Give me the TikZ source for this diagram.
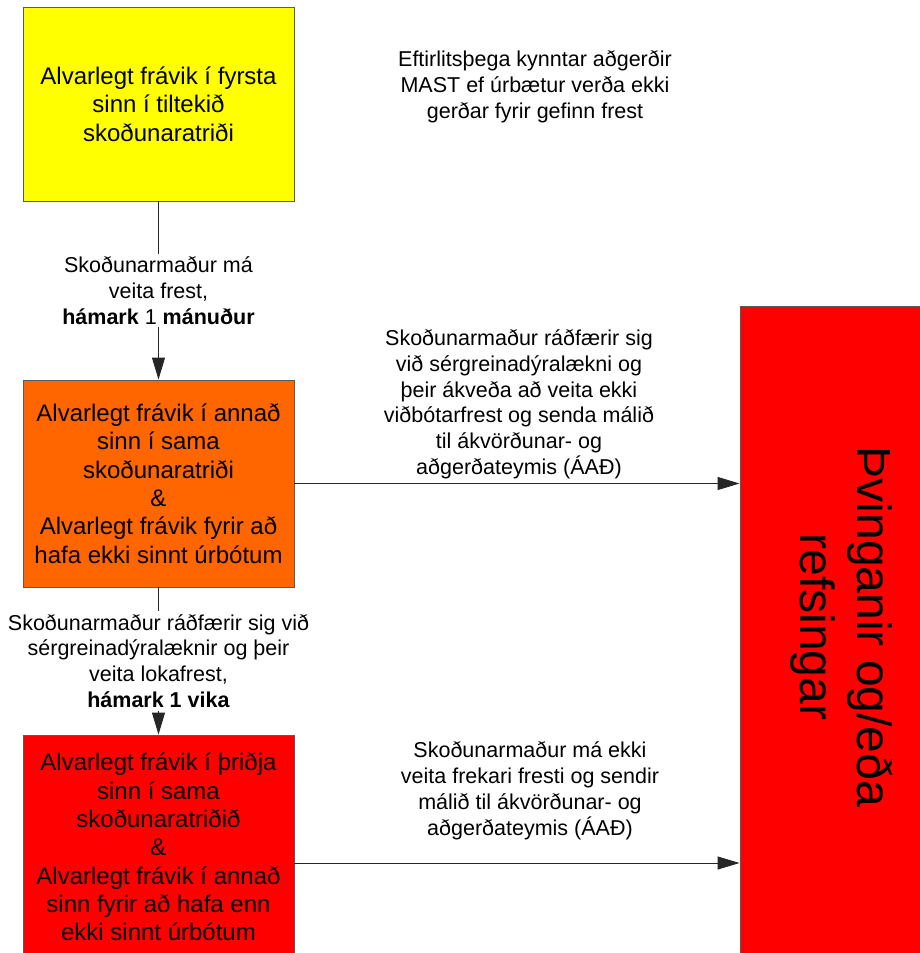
\documentclass[tikz,border=0pt]{standalone}
\usepackage{fontspec}
\setmainfont{Liberation Sans}
\usetikzlibrary{arrows.meta}
\definecolor{boxline}{HTML}{5A5A5A}
\definecolor{yel}{HTML}{FFFF00}
\definecolor{ora}{HTML}{FF6600}
\definecolor{rd}{HTML}{FF0000}
\tikzset{
  box/.style={draw=boxline, line width=0.9pt, minimum width=271pt, inner sep=0pt, align=center,
    font=\fontsize{24}{28.3}\selectfont},
  conn/.style={draw=black!85, line width=0.9pt, -{Triangle[length=22pt,width=13pt]}},
  lbl/.style={align=center, font=\fontsize{21.5}{25.8}\selectfont, inner sep=0pt},
  vlbl/.style={lbl, fill=white, inner sep=3pt}
}
\begin{document}
\begin{tikzpicture}[x=1pt,y=-1pt]
\useasboundingbox (0,0) rectangle (920,953);
\clip (0,0) rectangle (920,953);
\fill[white] (0,0) rectangle (920,953);

\node[box, fill=yel, minimum height=194pt] (b1) at (158.5,104)
  {Alvarlegt frávik í fyrsta\\sinn í tiltekið\\skoðunaratriði};
\node[box, fill=ora, minimum height=207pt] (b2) at (158.5,483.5)
  {Alvarlegt frávik í annað\\sinn í sama\\skoðunaratriði\\\&\\Alvarlegt frávik fyrir að\\hafa ekki sinnt úrbótum};
\node[box, fill=rd, minimum height=224pt] (b3) at (158.5,847)
  {Alvarlegt frávik í þriðja\\sinn í sama\\skoðunaratriðið\\\&\\Alvarlegt frávik í annað\\sinn fyrir að hafa enn\\ekki sinnt úrbótum};
\node[draw=boxline, line width=0.9pt, fill=rd, minimum width=210pt, minimum height=660pt, inner sep=0pt] (big) at (845,636) {};
\node[rotate=-90, align=center, inner sep=0pt, font=\fontsize{48}{57}\selectfont] (bigtxt) at (842,627)
  {Þvinganir og/eða\\refsingar};

\node[lbl] (top) at (535,87)
  {Eftirlitsþega kynntar aðgerðir\\MAST ef úrbætur verða ekki\\gerðar fyrir gefinn frest};

\draw[conn] (b1.south) -- node[vlbl] (l1) {Skoðunarmaður má\\veita frest,\\\textbf{hámark} 1 \textbf{mánuður}} (b2.north);
\draw[conn] (b2.south) -- node[vlbl] (l2) {Skoðunarmaður ráðfærir sig við\\sérgreinadýralæknir og þeir\\veita lokafrest,\\\textbf{hámark 1 vika}} (b3.north);

\draw[conn] (b2.east) -- node[lbl, anchor=south, yshift=4pt, xshift=2pt] (l3)
  {Skoðunarmaður ráðfærir sig\\við sérgreinadýralækni og\\þeir ákveða að veita ekki\\viðbótarfrest og senda málið\\til ákvörðunar- og\\aðgerðateymis (ÁAÐ)} (b2.east -| big.west);
\coordinate (s3) at ([yshift=-16pt]b3.east);
\draw[conn] (s3) -- node[lbl, anchor=south, yshift=23pt, xshift=13pt] (l4)
  {Skoðunarmaður má ekki\\veita frekari fresti og sendir\\málið til ákvörðunar- og\\aðgerðateymis (ÁAÐ)} (s3 -| big.west);
\end{tikzpicture}
\end{document}
